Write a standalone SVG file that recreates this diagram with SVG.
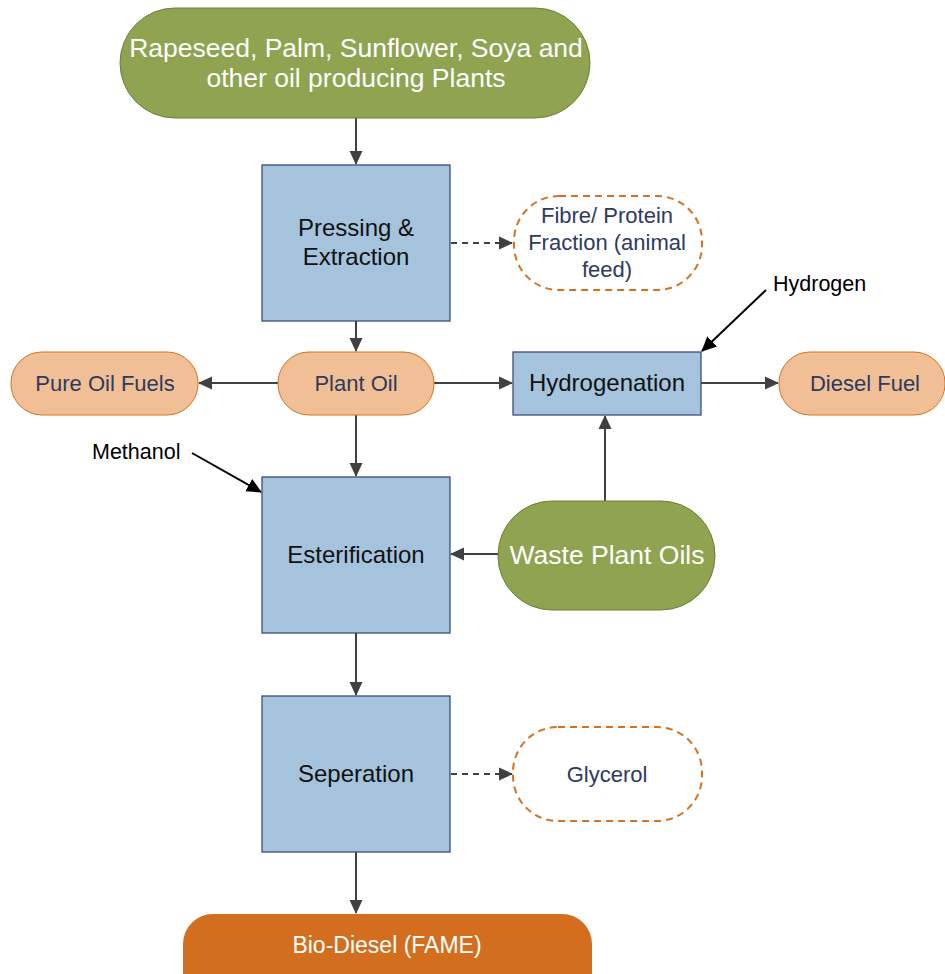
<svg xmlns="http://www.w3.org/2000/svg" width="945" height="974" viewBox="0 0 945 974">
  <style>
    .green { fill: #8FA350; stroke: #6E7F3A; stroke-width: 1; }
    .box { fill: #A6C3DD; stroke: #3B4E78; stroke-width: 1.3; }
    .peach { fill: #F1BF95; stroke: #D4721F; stroke-width: 1; }
    .dash { fill: #FFFFFF; stroke: #D4721F; stroke-width: 2; stroke-dasharray: 7 5; }
    .final { fill: #D26E1D; stroke: none; }
    .t { font-family: "Liberation Sans", Arial, sans-serif; text-anchor: middle; }
    .tw { fill: #FFFFFF; font-size: 26.5px; }
    .tb { fill: #111111; font-size: 24px; }
    .tn { fill: #2E3A5E; font-size: 22px; }
    .tl { fill: #000000; font-size: 21.5px; font-family: "Liberation Sans", Arial, sans-serif; }
    .c { stroke: #404040; stroke-width: 2; fill: none; }
    .cd { stroke: #404040; stroke-width: 2; fill: none; stroke-dasharray: 6 5; }
    .ck { stroke: #000000; stroke-width: 2; fill: none; }
  </style>
  <defs>
    <marker id="ah" markerWidth="14" markerHeight="14" refX="13" refY="7" orient="auto" markerUnits="userSpaceOnUse">
      <path d="M0,0.5 L14,7 L0,13.5 Z" fill="#404040"/>
    </marker>
    <marker id="ahk" markerWidth="15" markerHeight="15" refX="14" refY="7.5" orient="auto" markerUnits="userSpaceOnUse">
      <path d="M0,0.5 L15,7.5 L0,14.5 Z" fill="#000000"/>
    </marker>
  </defs>

  <!-- connectors -->
  <g id="connectors">
    <line class="c" x1="356" y1="118" x2="356" y2="164" marker-end="url(#ah)"/>
    <line class="cd" x1="451" y1="243" x2="512" y2="243" marker-end="url(#ah)"/>
    <line class="c" x1="356" y1="321" x2="356" y2="351" marker-end="url(#ah)"/>
    <line class="c" x1="278" y1="383" x2="199" y2="383" marker-end="url(#ah)"/>
    <line class="c" x1="434" y1="383" x2="512" y2="383" marker-end="url(#ah)"/>
    <line class="c" x1="701" y1="383" x2="778" y2="383" marker-end="url(#ah)"/>
    <line class="c" x1="356" y1="415" x2="356" y2="476" marker-end="url(#ah)"/>
    <line class="c" x1="498" y1="554" x2="451" y2="554" marker-end="url(#ah)"/>
    <line class="c" x1="605" y1="501" x2="605" y2="416" marker-end="url(#ah)"/>
    <line class="c" x1="356" y1="633" x2="356" y2="695" marker-end="url(#ah)"/>
    <line class="cd" x1="451" y1="774" x2="512" y2="774" marker-end="url(#ah)"/>
    <line class="c" x1="356" y1="852" x2="356" y2="913" marker-end="url(#ah)"/>
    <line class="ck" x1="766" y1="290" x2="702" y2="351" marker-end="url(#ahk)"/>
    <line class="ck" x1="192" y1="453" x2="261" y2="492" marker-end="url(#ahk)"/>
  </g>

  <g id="plants">
    <rect class="green" x="120" y="8" width="470" height="110" rx="55" ry="55"/>
    <text class="t tw" x="356" y="57">Rapeseed, Palm, Sunflower, Soya and</text>
    <text class="t tw" x="356" y="87">other oil producing Plants</text>
  </g>

  <g id="pressing">
    <rect class="box" x="262" y="165" width="188" height="156"/>
    <text class="t tb" x="356" y="236">Pressing &amp;</text>
    <text class="t tb" x="356" y="265">Extraction</text>
  </g>

  <g id="fibre">
    <rect class="dash" x="514" y="196" width="188" height="94" rx="45" ry="45"/>
    <text class="t tn" x="607" y="223">Fibre/ Protein</text>
    <text class="t tn" x="607" y="250">Fraction (animal</text>
    <text class="t tn" x="607" y="277">feed)</text>
  </g>

  <g id="pure-oil-fuels">
    <rect class="peach" x="11" y="352" width="187" height="63" rx="31" ry="31"/>
    <text class="t tn" x="105" y="391">Pure Oil Fuels</text>
  </g>

  <g id="plant-oil">
    <rect class="peach" x="278" y="352" width="156" height="63" rx="31" ry="31"/>
    <text class="t tn" x="356" y="391">Plant Oil</text>
  </g>

  <g id="hydrogenation">
    <rect class="box" x="513" y="352" width="188" height="63"/>
    <text class="t tb" x="607" y="391">Hydrogenation</text>
  </g>

  <g id="diesel-fuel">
    <rect class="peach" x="779" y="352" width="166" height="63" rx="31" ry="31"/>
    <text class="t tn" x="865" y="391">Diesel Fuel</text>
  </g>

  <g id="hydrogen">
    <text class="tl" x="773" y="291">Hydrogen</text>
  </g>

  <g id="methanol">
    <text class="tl" x="92" y="459">Methanol</text>
  </g>

  <g id="esterification">
    <rect class="box" x="262" y="477" width="188" height="156"/>
    <text class="t tb" x="356" y="563">Esterification</text>
  </g>

  <g id="waste-plant-oils">
    <rect class="green" x="498" y="501" width="217" height="109" rx="54" ry="54"/>
    <text class="t tw" x="607" y="564">Waste Plant Oils</text>
  </g>

  <g id="seperation">
    <rect class="box" x="262" y="696" width="188" height="156"/>
    <text class="t tb" x="356" y="782">Seperation</text>
  </g>

  <g id="glycerol">
    <rect class="dash" x="513" y="727" width="189" height="94" rx="45" ry="45"/>
    <text class="t tn" x="607" y="782">Glycerol</text>
  </g>

  <g id="bio-diesel">
    <rect class="final" x="183" y="914" width="409" height="100" rx="30" ry="30"/>
    <text class="t" x="387" y="953" fill="#FFFFFF" font-size="23" font-family="Lato, 'Open Sans', sans-serif">Bio-Diesel (FAME)</text>
  </g>
</svg>
